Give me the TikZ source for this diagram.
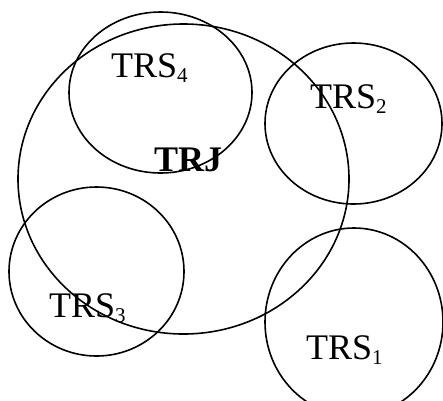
\documentclass[tikz,border=0pt]{standalone}
\usepackage{fontspec}
\setmainfont{Liberation Serif}
\begin{document}
\begin{tikzpicture}[x=1pt,y=-1pt,
  ring/.style={draw=black,line width=1.6pt},
  lbl/.style={anchor=base west,inner sep=0pt,font=\fontsize{36}{40}\selectfont}]
\useasboundingbox (0,0) rectangle (443,400);
\newcommand{\sub}[1]{\raisebox{-5pt}{\fontsize{21}{21}\selectfont #1}}
% sets
\draw[ring] (183.5,179) ellipse [x radius=165.5, y radius=155];
\draw[ring] (160.5,92.5) ellipse [x radius=91.5, y radius=80.5];
\draw[ring] (353.5,123.5) ellipse [x radius=88.5, y radius=80.5];
\draw[ring] (96.5,271.5) ellipse [x radius=87.5, y radius=84.5];
\draw[ring] (354,322) ellipse [x radius=89, y radius=94];
% labels
\node[lbl] (trs4) at (111,77) {TRS\sub{4}};
\node[lbl] (trs2) at (310,108) {TRS\sub{2}};
\node[lbl] (trj) at (154,171) {\bfseries TRJ};
\node[lbl] (trs3) at (49,317) {TRS\sub{3}};
\node[lbl] (trs1) at (306,359) {TRS\sub{1}};
\end{tikzpicture}
\end{document}
